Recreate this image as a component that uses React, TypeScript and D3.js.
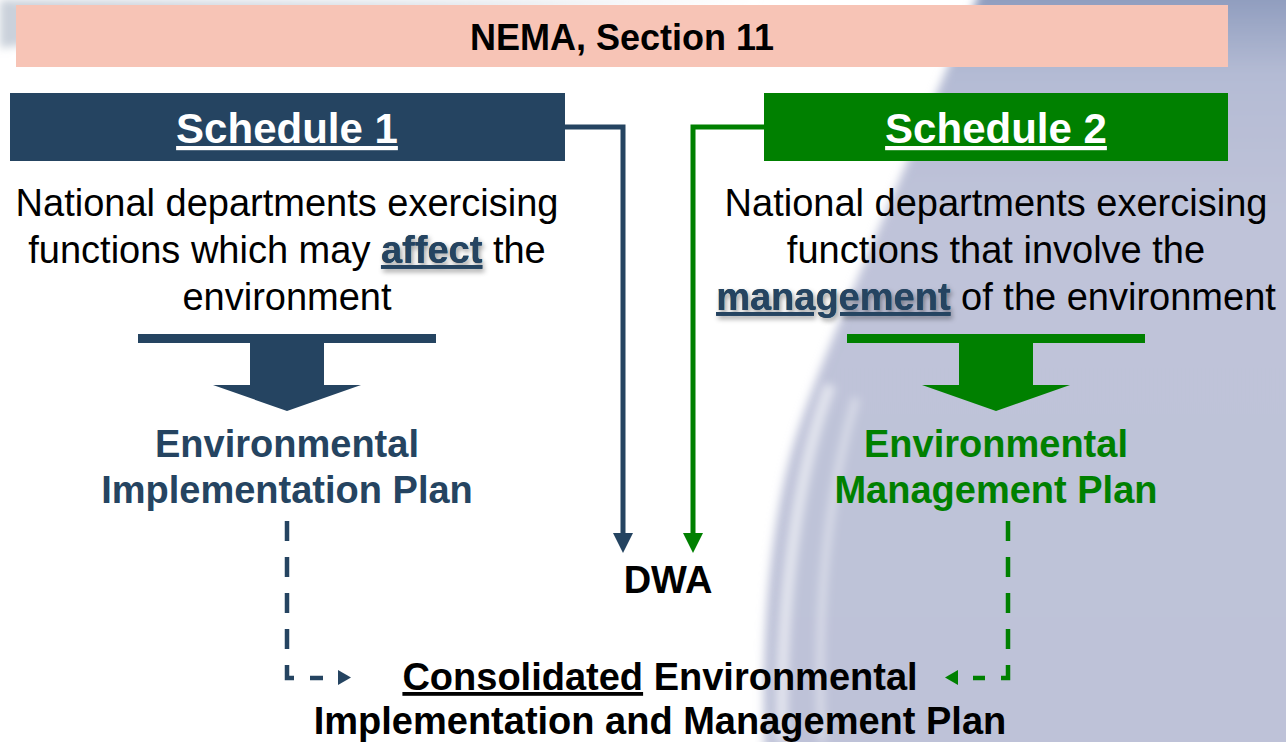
import React from "react";
import * as d3 from "d3";

// ---- Content (text data) ----
const headerTitle = "NEMA, Section 11";
const scheduleTitles = ["Schedule 1", "Schedule 2"];
type Seg = { t: string; em?: boolean };
const leftDesc: Seg[][] = [
  [{ t: "National departments exercising" }],
  [{ t: "functions which may " }, { t: "affect", em: true }, { t: " the" }],
  [{ t: "environment" }],
];
const rightDesc: Seg[][] = [
  [{ t: "National departments exercising" }],
  [{ t: "functions that involve the" }],
  [{ t: "management", em: true }, { t: " of the environment" }],
];
const leftPlan = ["Environmental", "Implementation Plan"];
const rightPlan = ["Environmental", "Management Plan"];
const centerLabel = "DWA";
const consolidatedLine1: Seg[] = [{ t: "Consolidated", em: true }, { t: " Environmental" }];
const consolidatedLine2 = "Implementation and Management Plan";

const NAVY = "#254461";
const GREEN = "#008000";
const PINK = "#f7c4b6";
const FONT = "'Liberation Sans', Arial, sans-serif";

const W = 1286;
const H = 742;

const line = d3.line<[number, number]>().x((d) => d[0]).y((d) => d[1]);

function BlockArrow({ cx, color }: { cx: number; color: string }) {
  const x = d3.scaleLinear().domain([-1, 1]).range([cx - 149, cx + 149]);
  const bar = line([
    [x(-1), 334], [x(1), 334], [x(1), 343], [x(-1), 343],
  ]) + "Z";
  const head = line([
    [cx - 37, 343], [cx + 37, 343], [cx + 37, 385], [cx + 74, 385],
    [cx, 411], [cx - 74, 385], [cx - 37, 385],
  ]) + "Z";
  return (
    <g fill={color}>
      <path d={bar} />
      <path d={head} />
    </g>
  );
}

function RichLine({ segs, x, y, size }: { segs: Seg[]; x: number; y: number; size: number }) {
  const hasEm = segs.some((s) => s.em);
  return (
    <g>
      {hasEm && (
        <text x={x} y={y} textAnchor="middle" fontFamily={FONT} fontSize={size} fill="none" style={{ whiteSpace: "pre" }} filter="url(#shadow)">
          {segs.map((s, i) =>
            s.em ? (
              <tspan key={i} fontWeight="bold" fill={NAVY} textDecoration="underline">
                {s.t}
              </tspan>
            ) : (
              <tspan key={i} fill="none">{s.t}</tspan>
            )
          )}
        </text>
      )}
      <text x={x} y={y} textAnchor="middle" fontFamily={FONT} fontSize={size} fill="#000" style={{ whiteSpace: "pre" }}>
        {segs.map((s, i) =>
          s.em ? (
            <tspan key={i} fontWeight="bold" fill={NAVY} textDecoration="underline">
              {s.t}
            </tspan>
          ) : (
            <tspan key={i}>{s.t}</tspan>
          )
        )}
      </text>
    </g>
  );
}

export default function App() {
  const leftCx = 287;
  const rightCx = 996;
  const descY = d3.range(3).map((i) => 216 + i * 47);
  const planY = d3.range(2).map((i) => 457 + i * 46);

  return (
    <svg width={W} height={H} style={{ position: "absolute", left: 0, top: 0 }}>
      <defs>
        <linearGradient id="lav" x1="0" y1="0" x2="0" y2="1">
          <stop offset="0" stopColor="#8796b9" />
          <stop offset="0.12" stopColor="#b4bbd4" />
          <stop offset="0.3" stopColor="#bfc3d9" />
          <stop offset="1" stopColor="#bec2d8" />
        </linearGradient>
        <linearGradient id="swoosh" x1="0" y1="0" x2="1" y2="0">
          <stop offset="0" stopColor="#c9d0da" />
          <stop offset="0.5" stopColor="#dfe4ea" />
          <stop offset="1" stopColor="#eef0f4" />
        </linearGradient>
        <filter id="soft" x="-20%" y="-20%" width="140%" height="140%">
          <feGaussianBlur stdDeviation="5" />
        </filter>
        <filter id="soft2" x="-50%" y="-20%" width="200%" height="140%">
          <feGaussianBlur stdDeviation="4" />
        </filter>
        <filter id="shadow" x="-10%" y="-30%" width="120%" height="160%">
          <feDropShadow dx="2" dy="3" stdDeviation="2.5" floodColor="#000" floodOpacity="0.4" />
        </filter>
      </defs>

      {/* background */}
      <rect x={0} y={0} width={W} height={H} fill="#ffffff" />
      <path d="M0,0 H760 C560,8 300,10 0,48 Z" fill="url(#swoosh)" filter="url(#soft2)" />
      <path
        d="M985,-20 L1320,-20 L1320,760 L765,760 C760,650 768,520 798,430 C825,350 870,250 985,-20 Z"
        fill="url(#lav)"
        filter="url(#soft)"
      />
      <path
        d="M830,385 C798,470 780,600 782,742"
        stroke="#ffffff"
        strokeOpacity={0.55}
        strokeWidth={12}
        fill="none"
        filter="url(#soft2)"
      />
      <path
        d="M856,398 C828,490 815,610 822,742"
        stroke="#ffffff"
        strokeOpacity={0.4}
        strokeWidth={8}
        fill="none"
        filter="url(#soft2)"
      />

      {/* header */}
      <rect x={16} y={5} width={1212} height={62} fill={PINK} />
      <text x={622} y={50} textAnchor="middle" fontFamily={FONT} fontWeight="bold" fontSize={36} fill="#000">
        {headerTitle}
      </text>

      {/* schedule boxes */}
      <rect x={10} y={93} width={555} height={68} fill={NAVY} />
      <rect x={764} y={93} width={464} height={68} fill={GREEN} />
      <text x={leftCx} y={143} textAnchor="middle" fontFamily={FONT} fontWeight="bold" fontSize={42} fill="#fff" textDecoration="underline">
        {scheduleTitles[0]}
      </text>
      <text x={rightCx} y={143} textAnchor="middle" fontFamily={FONT} fontWeight="bold" fontSize={42} fill="#fff" textDecoration="underline">
        {scheduleTitles[1]}
      </text>

      {/* connectors to DWA */}
      <path d={line([[565, 127], [623, 127], [623, 535]]) || ""} stroke={NAVY} strokeWidth={5} fill="none" />
      <path d={line([[613, 533], [633, 533], [623, 553]]) + "Z"} fill={NAVY} />
      <path d={line([[764, 127], [693, 127], [693, 535]]) || ""} stroke={GREEN} strokeWidth={5} fill="none" />
      <path d={line([[683, 533], [703, 533], [693, 553]]) + "Z"} fill={GREEN} />

      {/* descriptions */}
      {leftDesc.map((segs, i) => (
        <RichLine key={"l" + i} segs={segs} x={leftCx} y={descY[i]} size={38} />
      ))}
      {rightDesc.map((segs, i) => (
        <RichLine key={"r" + i} segs={segs} x={rightCx} y={descY[i]} size={38} />
      ))}

      {/* block arrows */}
      <BlockArrow cx={leftCx} color={NAVY} />
      <BlockArrow cx={rightCx} color={GREEN} />

      {/* plans */}
      {leftPlan.map((t, i) => (
        <text key={"lp" + i} x={leftCx} y={planY[i]} textAnchor="middle" fontFamily={FONT} fontWeight="bold" fontSize={38} fill={NAVY}>
          {t}
        </text>
      ))}
      {rightPlan.map((t, i) => (
        <text key={"rp" + i} x={rightCx} y={planY[i]} textAnchor="middle" fontFamily={FONT} fontWeight="bold" fontSize={38} fill={GREEN}>
          {t}
        </text>
      ))}

      {/* DWA */}
      <text x={668} y={593} textAnchor="middle" fontFamily={FONT} fontWeight="bold" fontSize={38} fill="#000">
        {centerLabel}
      </text>

      {/* dashed connectors */}
      <path d={line([[287, 521], [287, 678], [323, 678]]) || ""} stroke={NAVY} strokeWidth={4.5} fill="none" strokeDasharray="20 16" />
      <path d={line([[338, 670], [338, 685], [351, 677.5]]) + "Z"} fill={NAVY} />
      <path d={line([[1008, 521], [1008, 678], [973, 678]]) || ""} stroke={GREEN} strokeWidth={4.5} fill="none" strokeDasharray="20 16" />
      <path d={line([[958, 670], [958, 685], [945, 677.5]]) + "Z"} fill={GREEN} />

      {/* consolidated */}
      <text x={660} y={690} textAnchor="middle" fontFamily={FONT} fontWeight="bold" fontSize={38} fill="#000" style={{ whiteSpace: "pre" }}>
        {consolidatedLine1.map((s, i) =>
          s.em ? (
            <tspan key={i} textDecoration="underline">{s.t}</tspan>
          ) : (
            <tspan key={i}>{s.t}</tspan>
          )
        )}
      </text>
      <text x={660} y={734} textAnchor="middle" fontFamily={FONT} fontWeight="bold" fontSize={38} fill="#000">
        {consolidatedLine2}
      </text>
    </svg>
  );
}
